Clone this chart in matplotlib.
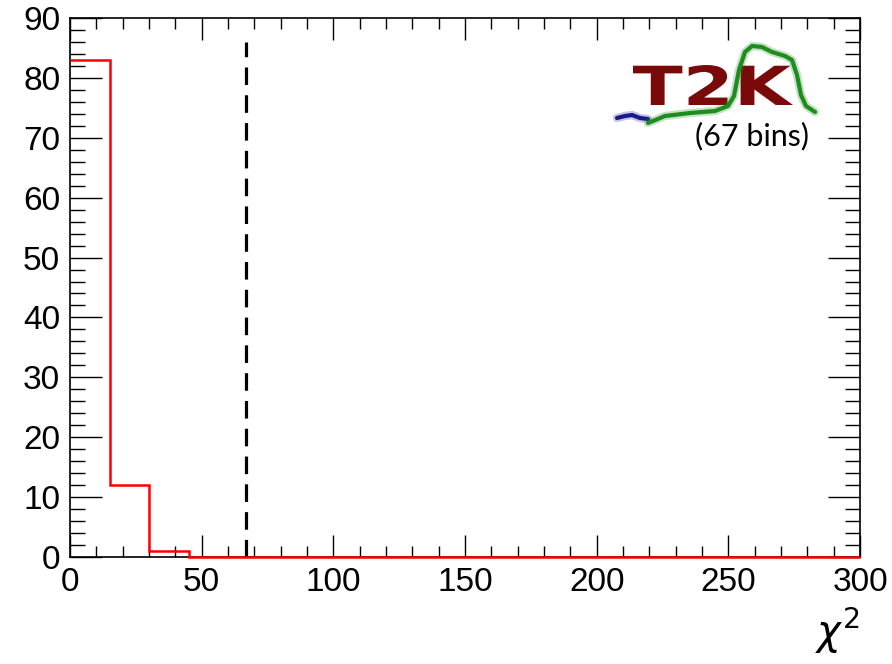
import matplotlib
matplotlib.use('Agg')

import numpy as np
import matplotlib.pyplot as plt
from matplotlib.textpath import TextPath
from matplotlib.patches import PathPatch
from matplotlib.font_manager import FontProperties
from matplotlib.transforms import Affine2D
from matplotlib.ticker import MultipleLocator

# chi2 distribution of toy fits, 20 bins of width 15
bin_edges = np.arange(0, 301, 15)
counts = [83, 12, 1, 0, 0, 0, 0, 0, 0, 0, 0, 0, 0, 0, 0, 0, 0, 0, 0, 0]
n_bins = 67          # number of analysis bins -> reference chi2
line_top = 86
label_text = "(67 bins)"

plt.rcParams['font.family'] = ['Liberation Sans', 'DejaVu Sans']

fig = plt.figure(figsize=(8.92, 6.64), dpi=100)
ax = fig.add_axes([70 / 892, 1 - 557 / 664, 790 / 892, 539 / 664])

# histogram drawn over the frame, like ROOT does
ax.stairs(counts, bin_edges, color='red', linewidth=1.8, baseline=None,
          zorder=3, clip_on=False)
ax.plot([n_bins, n_bins], [0, line_top], color='black', linewidth=2.3,
        dashes=(5.5, 3.2))

ax.set_xlim(0, 300)
ax.set_ylim(0, 90)

# ROOT-like ticks on all four sides
ax.xaxis.set_major_locator(MultipleLocator(50))
ax.xaxis.set_minor_locator(MultipleLocator(10))
ax.yaxis.set_major_locator(MultipleLocator(10))
ax.yaxis.set_minor_locator(MultipleLocator(2))
ax.tick_params(which='both', direction='in', top=True, right=True,
               labelsize=24, width=1.0, pad=7)
ax.tick_params(axis='x', which='major', length=16)
ax.tick_params(axis='x', which='minor', length=8)
ax.tick_params(axis='y', which='major', length=23)
ax.tick_params(axis='y', which='minor', length=11)
for sp in ax.spines.values():
    sp.set_linewidth(1.2)
    sp.set_zorder(2.5)

ax.text(1.0, (557 - 606) / 539, r'$\chi^2$', transform=ax.transAxes,
        ha='right', va='top', fontsize=29)

# T2K logo: stretched bold letters plus the green/blue wave
tp = TextPath((0, 0), "T2K", size=1,
              prop=FontProperties(family='DejaVu Sans', weight='bold'))
ext = tp.get_extents()
x0f, y0f = (633 - 70) / 790, (557 - 105) / 539
wf, hf = 160 / 790, 40 / 539
tr = (Affine2D().translate(-ext.x0, -ext.y0)
      .scale(wf / ext.width, hf / ext.height)
      .translate(x0f, y0f) + ax.transAxes)
ax.add_patch(PathPatch(tp, facecolor='#7a0a0a', edgecolor='none',
                       transform=tr, clip_on=False))

green_px = np.array([
    [648, 123], [665, 116], [690, 113], [715, 111], [728, 106], [734, 96],
    [739, 70], [745, 52], [752, 46], [762, 47], [772, 52], [785, 56],
    [792, 60], [797, 75], [801, 95], [806, 106], [815, 112]])
blue_px = np.array([[617, 118], [625, 116], [632, 115], [640, 118], [648, 119]])
for pts, col in ((blue_px, '#1a1a8c'), (green_px, '#1e8c1e')):
    fx = (pts[:, 0] - 70) / 790
    fy = (557 - pts[:, 1]) / 539
    ax.plot(fx, fy, color=col, linewidth=6, alpha=0.25, transform=ax.transAxes,
            solid_capstyle='round', solid_joinstyle='round', clip_on=False)
    ax.plot(fx, fy, color=col, linewidth=3, transform=ax.transAxes,
            solid_capstyle='round', solid_joinstyle='round', clip_on=False)

ax.text((809 - 70) / 790, (557 - 136) / 539, label_text,
        transform=ax.transAxes, ha='right', va='center', fontsize=22,
        family=['Lato', 'DejaVu Sans'])

fig.savefig('out.png', dpi=100)
